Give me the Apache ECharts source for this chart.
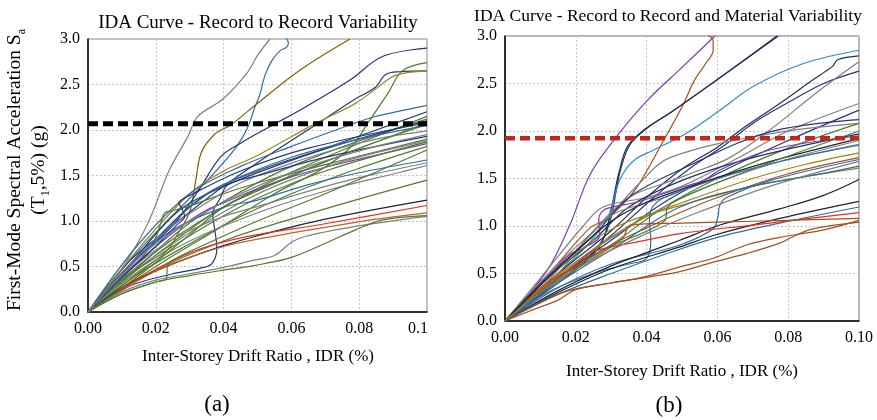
<!DOCTYPE html>
<html>
<head>
<meta charset="utf-8">
<script src="https://cdn.jsdelivr.net/npm/echarts@6/dist/echarts.min.js"></script>
<style>
  html, body { margin: 0; padding: 0; background: #fff; }
  #chart { width: 877px; height: 420px; }
</style>
</head>
<body>
<div id="chart"></div>
<script>
// IDA curves: Sa(T1,5%) [g] versus inter-storey drift ratio, one array per record.

// (a) Record-to-record variability
const a01 = [[0,0],[0.0097,0.46],[0.0176,0.97],[0.024,1.56],[0.0295,1.93],[0.0324,2.15],[0.0398,2.34],[0.047,2.63],[0.05,2.82],[0.0537,3.0]];
const a02 = [[0,0],[0.012,0.55],[0.022,0.95],[0.03,1.25],[0.038,1.56],[0.0435,1.8],[0.047,2.02],[0.0492,2.25],[0.0507,2.39],[0.0522,2.6],[0.0542,2.76],[0.0566,2.87],[0.0586,2.91],[0.0591,2.96],[0.0581,3.02]];
const a03 = [[0,0],[0.012,0.35],[0.0235,0.68],[0.0265,0.86],[0.03,1.1],[0.0318,1.45],[0.0334,1.75],[0.0373,1.95],[0.0423,2.06],[0.0502,2.3],[0.0626,2.66],[0.0773,3.0]];
const a04 = [[0,0],[0.012,0.5],[0.025,0.95],[0.032,1.3],[0.039,1.7],[0.0448,1.85],[0.0528,2.02],[0.0626,2.22],[0.0773,2.55],[0.087,2.81],[0.1,2.9]];
const a05 = [[0,0],[0.02,0.5],[0.04,0.95],[0.055,1.3],[0.069,1.57],[0.078,1.83],[0.0826,2.08],[0.0886,2.41],[0.0927,2.65],[0.1,2.74]];
const a06 = [[0,0],[0.012,0.55],[0.025,0.95],[0.037,1.3],[0.0492,1.62],[0.059,1.86],[0.069,2.1],[0.0788,2.34],[0.0848,2.47],[0.0878,2.61],[0.092,2.64],[0.1,2.65]];
const a07 = [[0,0],[0.015,0.7],[0.03,1.3],[0.04,1.55],[0.05,1.72],[0.067,2.07],[0.0788,2.29],[0.0848,2.45],[0.0907,2.6],[0.1,2.65]];
const a08 = [[0,0],[0.015,0.75],[0.03,1.3],[0.045,1.6],[0.06,1.82],[0.0768,2.05],[0.084,2.14],[0.1,2.27]];
const a09 = [[0,0],[0.02,0.8],[0.035,1.3],[0.05,1.55],[0.07,1.8],[0.085,2.0],[0.1,2.2]];
const a10 = [[0,0],[0.012,0.42],[0.025,0.8],[0.04,1.15],[0.055,1.45],[0.07,1.7],[0.085,1.93],[0.1,2.15]];
const a11 = [[0,0],[0.015,0.5],[0.03,0.98],[0.045,1.32],[0.06,1.6],[0.08,1.88],[0.1,2.12]];
const a12 = [[0,0],[0.013,0.55],[0.027,1.12],[0.04,1.38],[0.055,1.6],[0.075,1.85],[0.1,2.1]];
const a13 = [[0,0],[0.014,0.45],[0.028,0.85],[0.042,1.2],[0.06,1.5],[0.08,1.8],[0.1,2.06]];
const a14 = [[0,0],[0.013,0.55],[0.025,0.95],[0.035,1.2],[0.045,1.42],[0.0596,1.63],[0.0724,1.78],[0.085,1.9],[0.1,1.99]];
const a15 = [[0,0],[0.012,0.28],[0.025,0.42],[0.033,0.48],[0.0365,0.53],[0.038,0.7],[0.0372,0.95],[0.0368,1.08],[0.039,1.25],[0.0413,1.4],[0.0502,1.5],[0.07,1.7],[0.1,1.93]];
const a16 = [[0,0],[0.0147,0.55],[0.0196,0.79],[0.0216,0.99],[0.0226,1.09],[0.0246,1.11],[0.0295,1.16],[0.04,1.3],[0.0502,1.42],[0.07,1.62],[0.1,1.9]];
const a17 = [[0,0],[0.01,0.4],[0.02,0.72],[0.0275,0.94],[0.035,1.12],[0.042,1.23],[0.049,1.34],[0.064,1.53],[0.08,1.68],[0.1,1.85]];
const a18 = [[0,0],[0.012,0.4],[0.025,0.75],[0.04,1.1],[0.055,1.38],[0.075,1.65],[0.1,1.88]];
const a19 = [[0,0],[0.01,0.35],[0.02,0.6],[0.035,0.95],[0.05,1.25],[0.07,1.55],[0.1,1.87]];
const a20 = [[0,0],[0.015,0.42],[0.03,0.75],[0.045,1.05],[0.06,1.3],[0.08,1.58],[0.1,1.82]];
const a21 = [[0,0],[0.012,0.5],[0.025,0.9],[0.04,1.15],[0.05,1.23],[0.065,1.4],[0.08,1.53],[0.1,1.67]];
const a22 = [[0,0],[0.012,0.45],[0.025,0.8],[0.04,1.05],[0.0492,1.15],[0.07,1.38],[0.085,1.52],[0.1,1.64]];
const a23 = [[0,0],[0.015,0.45],[0.03,0.78],[0.0492,1.08],[0.07,1.33],[0.0915,1.53],[0.1,1.61]];
const a24 = [[0,0],[0.012,0.3],[0.025,0.55],[0.04,0.78],[0.0492,0.9],[0.0788,1.23],[0.1,1.45]];
const a25 = [[0,0],[0.01,0.27],[0.02,0.45],[0.03,0.6],[0.04,0.73],[0.0492,0.83],[0.07,1.02],[0.1,1.23]];
const a26 = [[0,0],[0.012,0.3],[0.02,0.47],[0.03,0.65],[0.04,0.77],[0.05,0.85],[0.07,0.97],[0.1,1.17]];
const a27 = [[0,0],[0.012,0.28],[0.02,0.45],[0.03,0.6],[0.04,0.72],[0.05,0.8],[0.07,0.93],[0.085,1.02],[0.1,1.09]];
const a28 = [[0,0],[0.01,0.22],[0.02,0.35],[0.03,0.42],[0.04,0.49],[0.049,0.57],[0.055,0.62],[0.0601,0.77],[0.064,0.83],[0.0788,0.94],[0.0915,1.01],[0.1,1.05]];
const a29 = [[0,0],[0.01,0.2],[0.02,0.33],[0.03,0.4],[0.04,0.46],[0.049,0.51],[0.06,0.6],[0.0709,0.77],[0.0788,0.9],[0.0867,1.01],[0.1,1.06]];
const a30 = [[0,0],[0.01,0.2],[0.02,0.33],[0.0232,0.37],[0.0234,0.5],[0.025,0.57],[0.035,0.75],[0.05,1.0],[0.07,1.3],[0.1,1.78]];
const a31 = [[0,0],[0.01,0.38],[0.02,0.72],[0.026,0.95],[0.0285,1.05],[0.0275,1.15],[0.0268,1.2],[0.03,1.28],[0.045,1.55],[0.065,1.8],[0.1,2.08]];
const a32 = [[0,0],[0.012,0.5],[0.022,0.85],[0.03,1.15],[0.04,1.4],[0.06,1.7],[0.08,1.9],[0.1,2.05]];
const a33 = [[0,0],[0.015,0.4],[0.03,0.85],[0.04,1.15],[0.05,1.33],[0.07,1.65],[0.1,2.08]];
const a34 = [[0,0],[0.011,0.45],[0.02,0.75],[0.03,1.0],[0.045,1.3],[0.065,1.6],[0.085,1.82],[0.1,1.95]];

// (b) Record-to-record and material variability
const b01 = [[0,0],[0.0117,0.52],[0.0183,1.01],[0.024,1.54],[0.0315,1.94],[0.0399,2.31],[0.0503,2.68],[0.0593,3.0]];
const b02 = [[0,0],[0.0136,0.55],[0.024,0.98],[0.028,1.06],[0.0325,1.2],[0.0373,1.41],[0.0448,1.9],[0.0505,2.29],[0.0533,2.52],[0.0565,2.7],[0.0588,2.85],[0.0588,2.95],[0.057,3.02]];
const b03 = [[0,0],[0.012,0.32],[0.022,0.6],[0.027,0.8],[0.0296,1.1],[0.0307,1.3],[0.0321,1.55],[0.0345,1.83],[0.0392,2.01],[0.0466,2.19],[0.0599,2.54],[0.0768,3.0]];
const b04 = [[0,0],[0.012,0.34],[0.022,0.62],[0.0275,0.85],[0.0302,1.12],[0.0313,1.35],[0.0327,1.6],[0.0352,1.85],[0.0398,2.02],[0.047,2.2],[0.0603,2.55],[0.0772,3.0]];
const b05 = [[0,0],[0.012,0.4],[0.022,0.75],[0.0285,1.05],[0.0305,1.25],[0.0326,1.5],[0.0364,1.69],[0.042,1.8],[0.0514,1.98],[0.0608,2.22],[0.0702,2.47],[0.0843,2.71],[0.1,2.85]];
const b06 = [[0,0],[0.015,0.5],[0.03,0.95],[0.04,1.3],[0.05,1.6],[0.06,1.83],[0.068,2.05],[0.0776,2.29],[0.087,2.54],[0.0925,2.68],[0.094,2.75],[0.1,2.79]];
const b07 = [[0,0],[0.015,0.45],[0.03,0.9],[0.042,1.3],[0.052,1.6],[0.062,1.85],[0.07,2.08],[0.08,2.3],[0.09,2.5],[0.1,2.63]];
const b08 = [[0,0],[0.015,0.5],[0.025,0.95],[0.035,1.3],[0.045,1.45],[0.0523,1.55],[0.0635,1.72],[0.0748,2.01],[0.0889,2.43],[0.1,2.73]];
const b09 = [[0,0],[0.01,0.45],[0.0221,1.0],[0.0277,1.2],[0.04,1.3],[0.05,1.42],[0.065,1.7],[0.08,2.0],[0.1,2.29]];
const b10 = [[0,0],[0.015,0.45],[0.03,0.85],[0.045,1.25],[0.06,1.55],[0.08,1.9],[0.1,2.22]];
const b11 = [[0,0],[0.015,0.6],[0.028,1.05],[0.038,1.45],[0.0466,1.72],[0.0748,1.97],[0.1,2.08]];
const b12 = [[0,0],[0.013,0.5],[0.025,0.9],[0.035,1.3],[0.05,1.6],[0.0748,1.99],[0.1,2.12]];
const b13 = [[0,0],[0.015,0.45],[0.03,0.8],[0.045,1.2],[0.06,1.5],[0.08,1.82],[0.1,2.08]];
const b14 = [[0,0],[0.012,0.45],[0.025,0.85],[0.035,1.2],[0.05,1.48],[0.07,1.72],[0.1,1.97]];
const b15 = [[0,0],[0.01,0.38],[0.0183,0.7],[0.0228,0.78],[0.0268,0.9],[0.0265,1.08],[0.0285,1.18],[0.0371,1.25],[0.0503,1.41],[0.0561,1.48],[0.0607,1.59],[0.0748,1.8],[0.1,1.95]];
const b16 = [[0,0],[0.012,0.4],[0.025,0.75],[0.04,1.1],[0.055,1.38],[0.075,1.65],[0.1,1.9]];
const b17 = [[0,0],[0.012,0.42],[0.022,0.82],[0.028,1.05],[0.032,1.15],[0.045,1.3],[0.06,1.5],[0.08,1.7],[0.1,1.86]];
const b18 = [[0,0],[0.012,0.4],[0.02,0.62],[0.0277,0.83],[0.0399,1.1],[0.0503,1.25],[0.07,1.5],[0.085,1.65],[0.1,1.77]];
const b19 = [[0,0],[0.0136,0.5],[0.025,0.85],[0.035,1.05],[0.05,1.22],[0.07,1.42],[0.1,1.61]];
const b20 = [[0,0],[0.01,0.35],[0.02,0.58],[0.03,0.8],[0.04,0.98],[0.05,1.15],[0.06,1.3],[0.08,1.55],[0.1,1.72]];
const b21 = [[0,0],[0.012,0.3],[0.025,0.5],[0.035,0.6],[0.04,0.66],[0.0412,0.85],[0.0408,1.05],[0.0415,1.19],[0.045,1.3],[0.06,1.5],[0.08,1.7],[0.1,1.85]];
const b22 = [[0,0],[0.015,0.4],[0.03,0.75],[0.0494,1.2],[0.07,1.42],[0.088,1.54],[0.1,1.63]];
const b23 = [[0,0],[0.015,0.35],[0.03,0.6],[0.0494,0.8],[0.0588,0.97],[0.0602,1.11],[0.0607,1.22],[0.0626,1.3],[0.075,1.48],[0.1,1.7]];
const b24 = [[0,0],[0.015,0.32],[0.03,0.58],[0.04,0.72],[0.0494,0.85],[0.0607,1.01],[0.0776,1.18],[0.0898,1.32],[0.1,1.49]];
const b25 = [[0,0],[0.015,0.3],[0.03,0.55],[0.0494,0.78],[0.0588,0.9],[0.0776,1.08],[0.1,1.26]];
const b26 = [[0,0],[0.015,0.28],[0.03,0.5],[0.045,0.7],[0.06,0.88],[0.0776,1.03],[0.1,1.2]];
const b27 = [[0,0],[0.012,0.38],[0.02,0.6],[0.0249,0.73],[0.0371,0.83],[0.0494,0.92],[0.07,1.01],[0.1,1.14]];
const b28 = [[0,0],[0.01,0.3],[0.02,0.55],[0.03,0.78],[0.0334,0.88],[0.0355,1.01],[0.05,1.03],[0.07,1.05],[0.1,1.08]];
const b29 = [[0,0],[0.008,0.12],[0.015,0.22],[0.02,0.33],[0.03,0.4],[0.04,0.46],[0.0494,0.52],[0.0588,0.62],[0.0682,0.71],[0.0776,0.82],[0.082,0.9],[0.087,0.97],[0.1,1.04]];
const b30 = [[0,0],[0.01,0.2],[0.018,0.32],[0.03,0.4],[0.04,0.47],[0.0494,0.57],[0.0588,0.66],[0.0682,0.8],[0.0776,0.88],[0.09,0.96],[0.1,1.06]];
const b31 = [[0,0],[0.012,0.45],[0.022,0.8],[0.03,1.05],[0.04,1.25],[0.055,1.45],[0.075,1.68],[0.1,1.92]];
const b32 = [[0,0],[0.014,0.42],[0.028,0.75],[0.045,1.05],[0.046,1.2],[0.05,1.3],[0.07,1.6],[0.1,2.0]];
const b33 = [[0,0],[0.012,0.35],[0.025,0.65],[0.04,0.92],[0.055,1.15],[0.075,1.42],[0.1,1.68]];

// Damage-state threshold levels (horizontal dashed lines)
const limitA = [[0, 2.07], [0.1, 2.07]];
const limitB = [[0, 1.925], [0.1, 1.925]];

const curvesA = [a01,a02,a03,a04,a05,a06,a07,a08,a09,a10,a11,a12,a13,a14,a15,a16,a17,a18,a19,a20,a21,a22,a23,a24,a25,a26,a27,a28,a29,a30,a31,a32,a33,a34];
const curvesB = [b01,b02,b03,b04,b05,b06,b07,b08,b09,b10,b11,b12,b13,b14,b15,b16,b17,b18,b19,b20,b21,b22,b23,b24,b25,b26,b27,b28,b29,b30,b31,b32,b33];

const C = {
  gray: '#7f7f7f', blue: '#2e6da4', lblue: '#2e8bd0', navy: '#26367a', dnavy: '#1f3358',
  black: '#1c2430', olive: '#7f6000', gold: '#a08510', green: '#4f7d2c', purple: '#7a3bc0',
  red: '#f02a20', orange: '#c0612a', brown: '#a4501e'
};
const colorsA = [C.gray, C.blue, C.olive, C.navy, C.green, C.navy, C.gold, C.blue, C.navy, C.green,
  C.green, C.navy, C.green, C.gray, C.navy, C.green, C.purple, C.gray, C.green, C.green,
  C.blue, C.gray, C.gray, C.green, C.black, C.red, C.orange, C.gray, C.green, C.green,
  C.navy, C.blue, C.green, C.gray];
const colorsB = [C.purple, C.brown, C.dnavy, C.dnavy, C.lblue, C.dnavy, C.navy, C.gray, C.gray, C.navy,
  C.gray, C.navy, C.green, C.dnavy, C.purple, C.gray, C.gray, C.gold, C.gold, C.brown,
  C.blue, C.blue, C.blue, C.black, C.black, C.blue, C.red, C.brown, C.brown, C.brown,
  C.black, C.green, C.gray];

const SERIF = '"Liberation Serif", "DejaVu Serif", serif';

function curveSeries(data, color, idx, width) {
  return {
    type: 'line', xAxisIndex: idx, yAxisIndex: idx, data: data,
    smooth: 0.35, showSymbol: false, silent: true, clip: true,
    lineStyle: { color: color, width: width }
  };
}

function xAxisFor(idx, lastLabel, lastPad) {
  return {
    type: 'value', gridIndex: idx, min: 0, max: 0.1, interval: 0.02,
    axisLine: { show: true, onZero: false, lineStyle: { color: '#000', width: 1.5 } },
    axisTick: { show: false },
    axisLabel: {
      color: '#000', fontFamily: SERIF, fontSize: 16, margin: 9,
      formatter: v => (Math.abs(v - 0.1) < 1e-9 ? '{end|' + lastLabel + '}' : v.toFixed(2)),
      rich: { end: { color: '#000', fontFamily: SERIF, fontSize: 16, padding: [0, lastPad, 0, 0] } }
    },
    splitLine: { show: true, lineStyle: { color: '#c4c4c4', type: [2, 2], width: 1 } }
  };
}
function yAxisFor(idx) {
  return {
    type: 'value', gridIndex: idx, min: 0, max: 3, interval: 0.5,
    axisLine: { show: true, onZero: false, lineStyle: { color: '#000', width: 1.5 } },
    axisTick: { show: false },
    axisLabel: { color: '#000', fontFamily: SERIF, fontSize: 16, margin: 8, formatter: v => v.toFixed(1) },
    splitLine: { show: true, lineStyle: { color: '#c4c4c4', type: [2, 2], width: 1 } }
  };
}

const series = [];
curvesA.forEach((d, i) => series.push(curveSeries(d, colorsA[i], 0, 1.2)));
curvesB.forEach((d, i) => series.push(curveSeries(d, colorsB[i], 1, 1.2)));
series.push({
  type: 'line', xAxisIndex: 0, yAxisIndex: 0, data: limitA, showSymbol: false, silent: true, z: 5,
  lineStyle: { color: '#000', width: 5, type: [10, 5] }
});
series.push({
  type: 'line', xAxisIndex: 1, yAxisIndex: 1, data: limitB, showSymbol: false, silent: true, z: 5,
  lineStyle: { color: '#c0281c', width: 4.5, type: [10, 5] }
});

function label(x, y, text, size, extra) {
  return Object.assign({
    type: 'text', x: x, y: y, silent: true,
    style: { text: text, fill: '#000', font: size + 'px ' + SERIF, align: 'center', verticalAlign: 'middle' }
  }, extra || {});
}

// rotated axis title with a subscript
const nameRich = {
  m: { fontSize: 19.5, fontFamily: SERIF, fill: '#000', lineHeight: 26, verticalAlign: 'middle' },
  s: { fontSize: 12, fontFamily: SERIF, fill: '#000', verticalAlign: 'bottom' }
};
function rotatedName(x, y, text) {
  return {
    type: 'text', x: x, y: y, rotation: Math.PI / 2, silent: true,
    style: { text: text, fill: '#000', align: 'center', verticalAlign: 'middle', rich: nameRich }
  };
}

const chart = echarts.init(document.getElementById('chart'), null, { renderer: 'canvas' });
chart.setOption({
  animation: false,
  backgroundColor: '#fff',
  grid: [
    { left: 88, top: 39, width: 339, height: 273, show: true, borderColor: '#8a8a8a', borderWidth: 1, backgroundColor: 'transparent' },
    { left: 505, top: 36, width: 354, height: 285, show: true, borderColor: '#6a6a6a', borderWidth: 1, backgroundColor: 'transparent' }
  ],
  xAxis: [xAxisFor(0, '0.1', 18), xAxisFor(1, '0.10', 0)],
  yAxis: [yAxisFor(0), yAxisFor(1)],
  series: series,
  graphic: [
    label(258, 23, 'IDA Curve - Record to Record Variability', 19),
    label(668, 16, 'IDA Curve - Record to Record and Material Variability', 17.5),
    label(258, 357, 'Inter-Storey Drift Ratio , IDR (%)', 17),
    label(682, 372, 'Inter-Storey Drift Ratio , IDR (%)', 17),
    label(217, 405, '(a)', 23),
    label(669, 406, '(b)', 23),
    rotatedName(15, 170, '{m|First-Mode Spectral Acceleration S}{s|a}'),
    rotatedName(39, 170, '{m|(T}{s|1}{m|,5%) (g)}')
  ]
});
</script>
</body>
</html>
